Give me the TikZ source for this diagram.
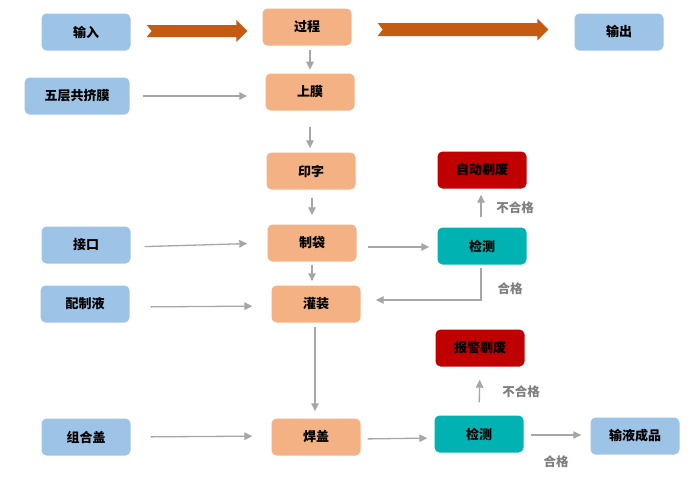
\documentclass[tikz,border=0pt]{standalone}
\usepackage{fontspec}
\usepackage{tikz}
\usepackage{xcolor}
\usetikzlibrary{arrows.meta,positioning,calc}
\newfontfamily\cjk{Noto Sans CJK SC}
\definecolor{inputcolor}{RGB}{157,195,230}
\definecolor{proccolor}{RGB}{244,177,131}
\definecolor{testcolor}{RGB}{0,178,178}
\definecolor{rejectcolor}{RGB}{192,0,0}
\definecolor{linkcolor}{RGB}{166,166,166}
\definecolor{notecolor}{RGB}{127,127,127}
\definecolor{bigcolor}{RGB}{197,90,17}

\begin{document}
\begin{tikzpicture}[
    x=1pt, y=-1pt,
    box/.style={
        rectangle, rounded corners=5pt,
        minimum width=89pt, minimum height=37pt,
        align=center, font=\cjk\bfseries\fontsize{13}{15}\selectfont
    },
    inputbox/.style={box, fill=inputcolor},
    procbox/.style={box, fill=proccolor},
    testbox/.style={box, fill=testcolor},
    rejectbox/.style={box, fill=rejectcolor},
    arrow/.style={-{Triangle[length=8pt,width=7.5pt]}, draw=linkcolor, line width=1.3pt},
    bigarrow/.style={fill=bigcolor},
    note/.style={font=\cjk\bfseries\fontsize{12.5}{14}\selectfont, text=notecolor}
]
\useasboundingbox (0,0) rectangle (700,479);

% Top row
\node[inputbox] (input) at (86, 32) {输入};
\node[procbox] (process) at (307, 27) {过程};
\node[inputbox] (output) at (619, 32) {输出};

% Inputs on the left
\node[inputbox, minimum width=105pt] (film) at (77, 96) {五层共挤膜};
\node[inputbox] (port) at (86, 245) {接口};
\node[inputbox] (liquid) at (85, 304) {配制液};
\node[inputbox] (cap) at (86, 437) {组合盖};

% Process steps
\node[procbox] (loadfilm) at (310, 92) {上膜};
\node[procbox] (print) at (311, 171) {印字};
\node[procbox] (bag) at (312, 243) {制袋};
\node[procbox] (fill) at (316, 304) {灌装};
\node[procbox] (weld) at (316, 437) {焊盖};

% Checks and rejects
\node[testbox] (check1) at (482, 246) {检测};
\node[rejectbox] (reject1) at (482, 170) {自动剔废};
\node[testbox] (check2) at (479, 434) {检测};
\node[rejectbox] (reject2) at (480, 348) {报警剔废};

% Final product
\node[inputbox] (product) at (635, 436) {输液成品};

% Big arrows
\coordinate (a1) at ($(input.east)+(16,-1)$);
\coordinate (b1) at ($(input.east -| process.west)+(-15,-1)$);
\fill[bigarrow] ($(a1)+(0,-6)$) -- ($(b1)+(-11,-6)$) -- ($(b1)+(-11,-11)$) -- (b1)
    -- ($(b1)+(-11,11)$) -- ($(b1)+(-11,6)$) -- ($(a1)+(0,6)$) -- ($(a1)+(5,0)$) -- cycle;
\coordinate (a2) at ($(process.east)+(26,2.5)$);
\coordinate (b2) at ($(process.east -| output.west)+(-26,2.5)$);
\fill[bigarrow] ($(a2)+(0,-6.5)$) -- ($(b2)+(-11,-6.5)$) -- ($(b2)+(-11,-11)$) -- (b2)
    -- ($(b2)+(-11,11)$) -- ($(b2)+(-11,6.5)$) -- ($(a2)+(0,6.5)$) -- ($(a2)+(5,0)$) -- cycle;

% Arrows - main flow
\draw[arrow, shorten <=4pt, shorten >=4pt] ($(process.south)+(3,0)$) -- ($(process.south -| loadfilm.north)+(0,28)$);
\draw[arrow, shorten <=16pt, shorten >=4pt] (loadfilm.south) -- (loadfilm.south |- print.north);
\draw[arrow, shorten <=8pt, shorten >=9pt] ($(print.south)+(1,0)$) -- (bag.north);
\draw[arrow, shorten <=3pt, shorten >=4pt] (bag.south) -- (bag.south |- fill.north);
\draw[arrow, shorten <=4pt, shorten >=7pt] ($(fill.south)+(-1,0)$) -- ($(weld.north)+(-1,0)$);

% Arrows - inputs
\draw[arrow, shorten <=13pt, shorten >=18pt] (film.east) -- (film.east -| loadfilm.west);
\draw[arrow, shorten <=14pt, shorten >=20pt] ($(port.east)+(0,2)$) -- (bag.west);
\draw[arrow, shorten <=21pt, shorten >=19pt] ($(liquid.east)+(0,3)$) -- ($(fill.west)+(0,2)$);
\draw[arrow, shorten <=20pt, shorten >=19pt] (cap.east) -- ($(weld.west)+(0,-1)$);

% Arrows - checks
\draw[arrow, shorten <=11pt, shorten >=8pt] ($(bag.east)+(0,4)$) -- ($(check1.west)+(0,1)$);
\draw[arrow, shorten <=10pt, shorten >=6pt] ($(check1.north)+(-1,0)$) -- ($(reject1.south)+(-1,0)$);
\draw[arrow, shorten <=3pt] ($(check1.south)+(-1,0)$) |- ($(fill.east)+(15,-4)$);
\draw[arrow, shorten <=7pt, shorten >=7pt] ($(weld.east)+(0,2)$) -- ($(check2.west)+(0,4)$);
\draw[arrow, shorten <=13pt, shorten >=13pt] (check2.north) -- (reject2.south);
\draw[arrow, shorten <=7pt, shorten >=9pt] ($(check2.east)+(0,1)$) -- ($(product.west)+(0,-1)$);

% Labels
\node[note] (fail1) at (515, 208) {不合格};
\node[note] (pass1) at (510, 289) {合格};
\node[note] (fail2) at (521, 392) {不合格};
\node[note] (pass2) at (556, 462) {合格};

\end{tikzpicture}
\end{document}
